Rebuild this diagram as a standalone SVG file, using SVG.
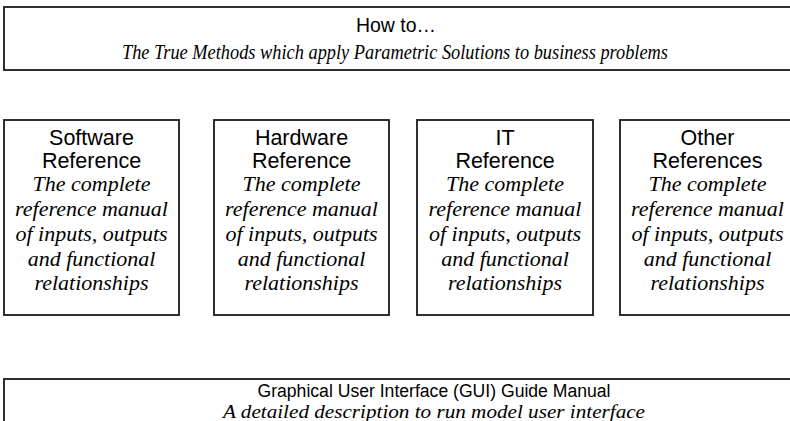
<svg xmlns="http://www.w3.org/2000/svg" width="790" height="421" viewBox="0 0 790 421">
<style>
.box{fill:#fff;stroke:#1a1a1a;stroke-width:1.8}
.s{font-family:"Liberation Sans",Arial,sans-serif;fill:#000;text-anchor:middle}
.i{font-family:"Liberation Serif","Times New Roman",serif;font-style:italic;fill:#000;text-anchor:middle}
.bs{font-size:21.5px}
.bi{font-size:22px}
</style>
<rect width="790" height="421" fill="#fff"/>
<g id="howto">
<rect class="box" x="4" y="7" width="800" height="63"/>
<text class="s" x="396" y="32" font-size="20" textLength="80" lengthAdjust="spacingAndGlyphs">How to…</text>
<text class="i" x="395" y="59" font-size="21" textLength="546" lengthAdjust="spacingAndGlyphs">The True Methods which apply Parametric Solutions to business problems</text>
</g>
<g id="software">
<rect class="box" x="4" y="120" width="175" height="195"/>
<text class="s bs" x="91.5" y="145">Software</text>
<text class="s bs" x="91.5" y="168">Reference</text>
<text class="i bi" x="91.5" y="191">The complete</text>
<text class="i bi" x="91.5" y="216">reference manual</text>
<text class="i bi" x="91.5" y="241">of inputs, outputs</text>
<text class="i bi" x="91.5" y="266">and functional</text>
<text class="i bi" x="91.5" y="290">relationships</text>
</g>
<g id="hardware">
<rect class="box" x="214" y="120" width="175" height="195"/>
<text class="s bs" x="301.5" y="145">Hardware</text>
<text class="s bs" x="301.5" y="168">Reference</text>
<text class="i bi" x="301.5" y="191">The complete</text>
<text class="i bi" x="301.5" y="216">reference manual</text>
<text class="i bi" x="301.5" y="241">of inputs, outputs</text>
<text class="i bi" x="301.5" y="266">and functional</text>
<text class="i bi" x="301.5" y="290">relationships</text>
</g>
<g id="it">
<rect class="box" x="417" y="120" width="176" height="195"/>
<text class="s bs" x="505" y="145">IT</text>
<text class="s bs" x="505" y="168">Reference</text>
<text class="i bi" x="505" y="191">The complete</text>
<text class="i bi" x="505" y="216">reference manual</text>
<text class="i bi" x="505" y="241">of inputs, outputs</text>
<text class="i bi" x="505" y="266">and functional</text>
<text class="i bi" x="505" y="290">relationships</text>
</g>
<g id="other">
<rect class="box" x="620" y="120" width="175" height="195"/>
<text class="s bs" x="707.5" y="145">Other</text>
<text class="s bs" x="707.5" y="168">References</text>
<text class="i bi" x="707.5" y="191">The complete</text>
<text class="i bi" x="707.5" y="216">reference manual</text>
<text class="i bi" x="707.5" y="241">of inputs, outputs</text>
<text class="i bi" x="707.5" y="266">and functional</text>
<text class="i bi" x="707.5" y="290">relationships</text>
</g>
<g id="gui">
<rect class="box" x="4" y="379" width="800" height="60"/>
<text class="s" x="434" y="397" font-size="18" textLength="353" lengthAdjust="spacingAndGlyphs">Graphical User Interface (GUI) Guide Manual</text>
<text class="i" x="434" y="418" font-size="19" textLength="422" lengthAdjust="spacingAndGlyphs">A detailed description to run model user interface</text>
</g>
<g id="connectors"></g>
</svg>
